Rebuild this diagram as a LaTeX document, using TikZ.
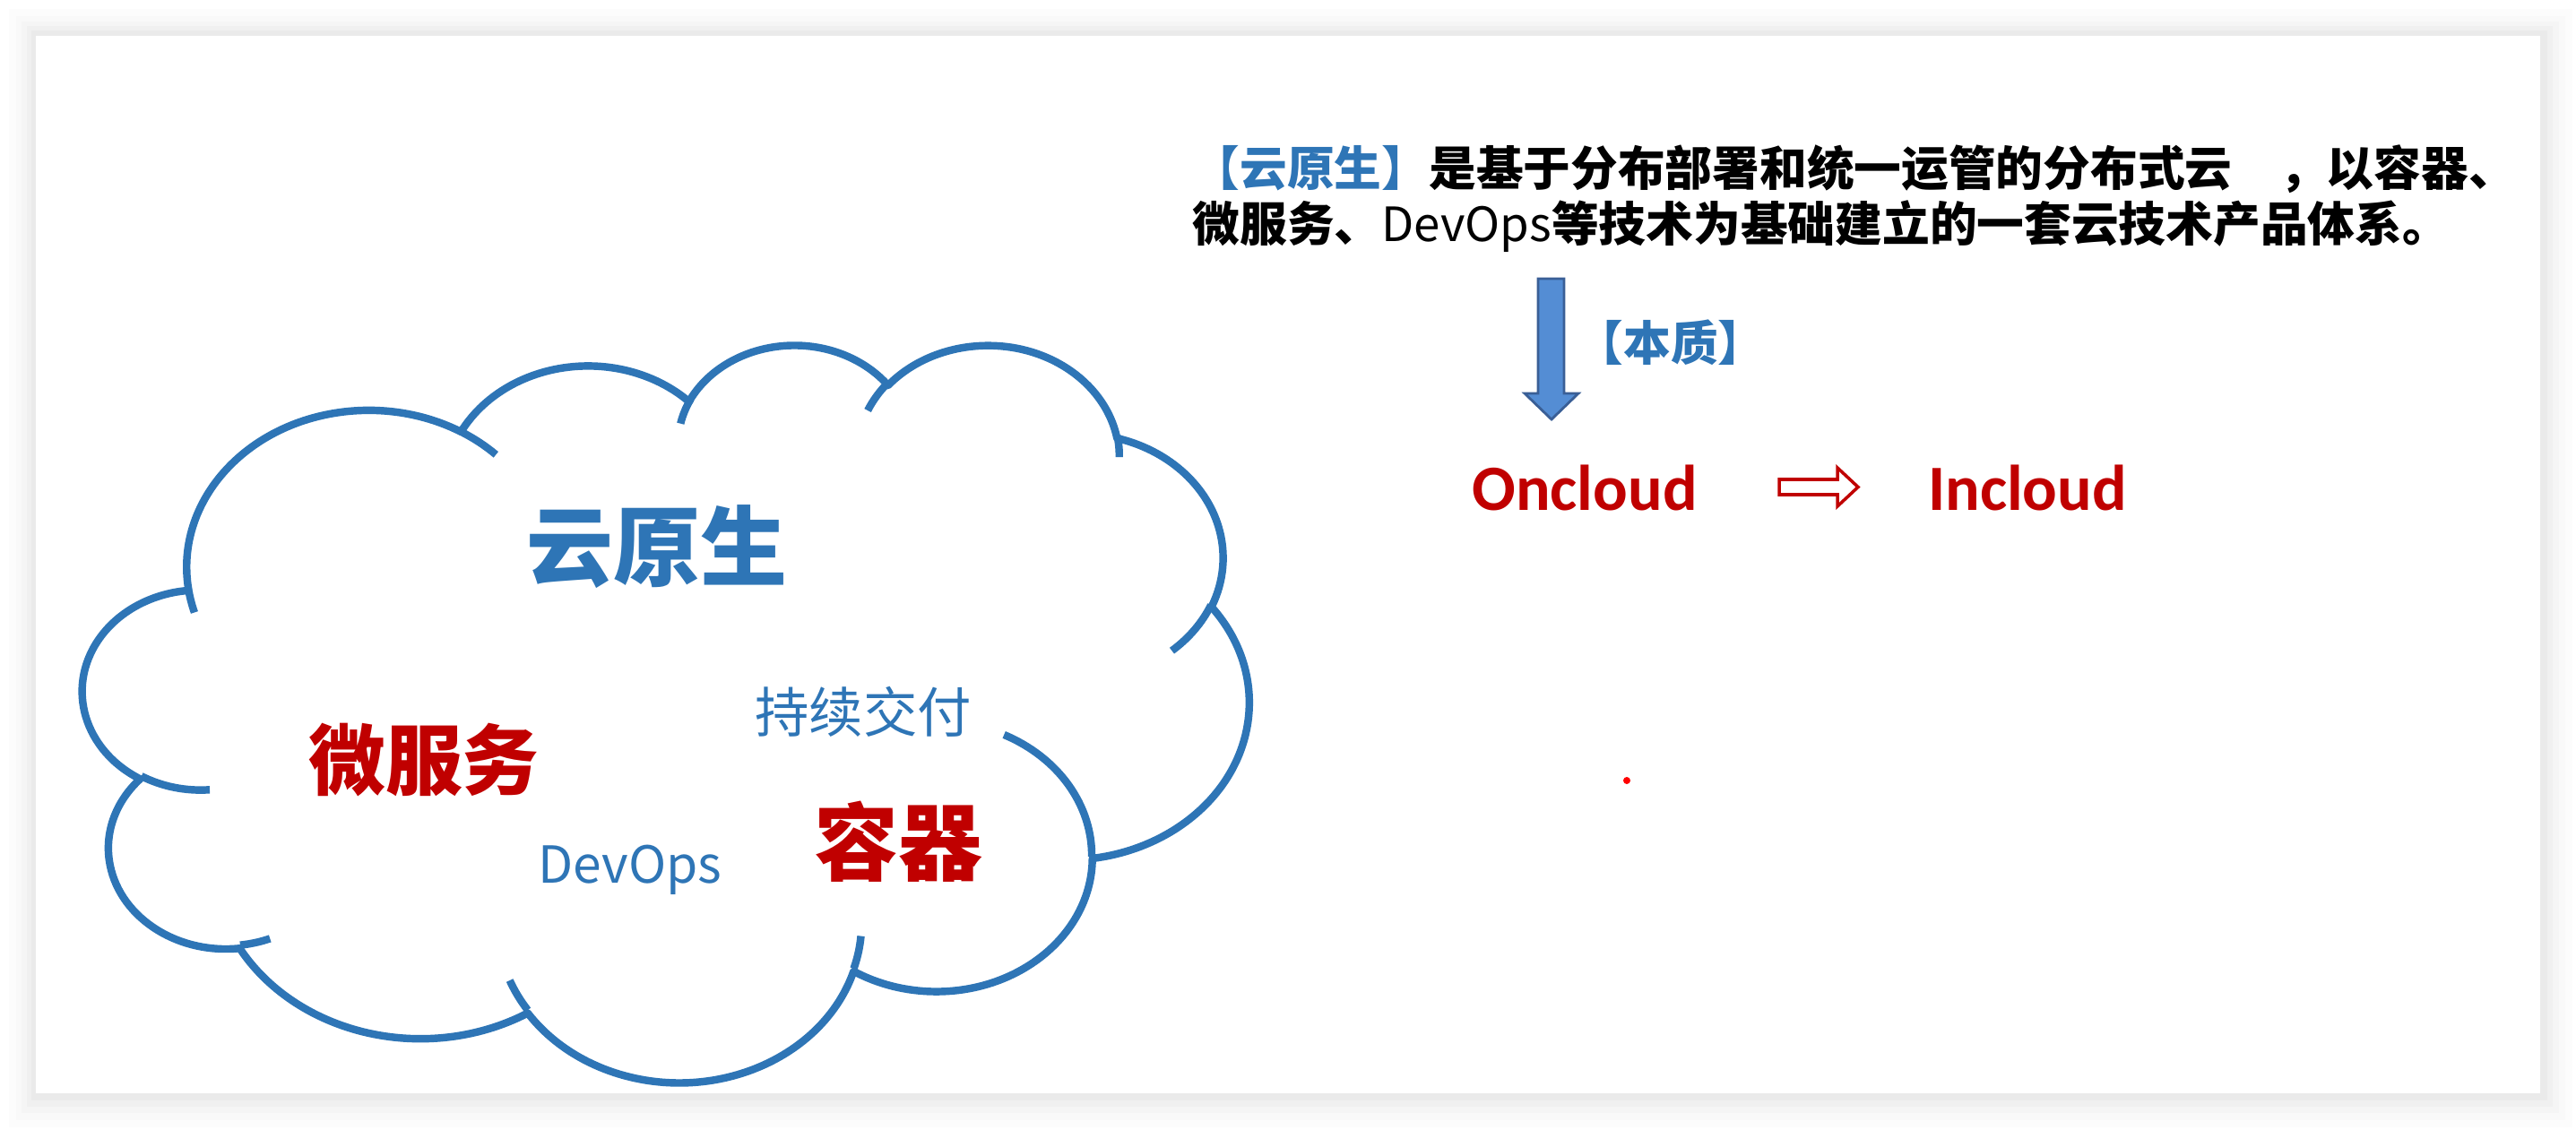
\documentclass[tikz,border=0pt]{standalone}
\usepackage{fontspec}
\newfontfamily\cjk{Noto Sans CJK SC}
\newfontfamily\calib{Carlito}
\definecolor{cloudblue}{RGB}{46,117,182}
\definecolor{deepred}{RGB}{192,0,0}
\definecolor{arrowblue}{RGB}{84,141,212}
\definecolor{arrowedge}{RGB}{58,95,150}
% one lobe of the cloud: x radius, y radius, start angle, sweep (angles seen on the page)
\newcommand{\cloudarc}[4]{arc[x radius=#1, y radius=#2,
  start angle={atan2(#1*sin(#3),#2*cos(#3))},
  delta angle={mod(atan2(#1*sin(#3+#4),#2*cos(#3+#4))-atan2(#1*sin(#3),#2*cos(#3))+720,360)}]}

\begin{document}
\begin{tikzpicture}[
    cloudline/.style={draw=cloudblue, line width=2.4pt, line join=round},
    cloudword/.style={inner sep=0, font=\cjk},
    introline/.style={anchor=west, inner sep=0, font={\cjk\bfseries\fontsize{15}{18}\selectfont}},
    bigword/.style={inner sep=0, anchor=base, text=deepred, font={\calib\bfseries\fontsize{20.5}{24}\selectfont}}
  ]
			%%%%% START %%%%%
			
			\useasboundingbox (0, 0) rectangle (28.74, 12.6);
			\fill[white] (0, 0) rectangle (28.74, 12.6);
			
			% page with its soft shadow
			\fill[black, opacity=0.01] (0.10, 0.02) rectangle (28.70, 12.50);
			\fill[black, opacity=0.012] (0.18, 0.10) rectangle (28.62, 12.42);
			\fill[black, opacity=0.015] (0.24, 0.18) rectangle (28.55, 12.36);
			\fill[black, opacity=0.02] (0.30, 0.25) rectangle (28.48, 12.31);
			\fill[black, opacity=0.025] (0.35, 0.32) rectangle (28.42, 12.26);
			\fill[white] (0.40, 0.40) rectangle (28.34, 12.20);
			
			% cloud
			\begin{scope}[shift={(0.927, 8.772)}, x=0.0301cm, y=-0.01904cm]
			\draw[cloudline, fill=white] (39.00, 143.70)
			  \cloudarc{67.53}{91.90}{-190.48748}{123.78053}
			  \cloudarc{53.33}{72.67}{-144.10238}{89.94523}
			  \cloudarc{43.65}{59.45}{-145.80792}{99.72302}
			  \cloudarc{48.57}{65.95}{-130.98607}{117.24173}
			  \cloudarc{53.33}{72.73}{-78.70888}{109.02692}
			  \cloudarc{67.75}{92.20}{-46.26725}{130.269}
			  \cloudarc{57.85}{78.67}{0.62502}{114.03333}
			  \cloudarc{67.52}{92.15}{22.4516}{115.17255}
			  \cloudarc{77.20}{105.43}{66.24263}{75.71102}
			  \cloudarc{43.60}{59.18}{-274.94208}{146.73557}
			  \cloudarc{43.45}{59.45}{-246.8285}{152.51885}
			  -- cycle;
			\draw[cloudline] (46.93, 261.77) \cloudarc{43.45}{59.45}{86.742}{26.4295};
			\draw[cloudline] (69.28, 348.99) \cloudarc{43.60}{59.18}{73.61047}{11.44747};
			\draw[cloudline] (164.78, 390.90) \cloudarc{67.52}{92.15}{137.62415}{14.0811};
			\draw[cloudline] (288.27, 347.51) \cloudarc{67.52}{92.15}{6.45327}{15.99835};
			\draw[cloudline] (341.29, 229.54) \cloudarc{57.85}{78.67}{-70.29235}{70.91737};
			\draw[cloudline] (417.98, 153.54) \cloudarc{53.33}{72.73}{30.31803}{27.7515};
			\draw[cloudline] (383.24, 54.26) \cloudarc{48.57}{65.95}{-13.74433}{14.8589};
			\draw[cloudline] (290.78, 39.52) \cloudarc{48.57}{65.95}{-149.18145}{18.19537};
			\draw[cloudline] (221.41, 47.20) \cloudarc{43.65}{59.45}{-163.49427}{18.19537};
			\draw[cloudline] (140.00, 51.92) \cloudarc{67.53}{91.90}{-66.70695}{12.31935};
			\draw[cloudline] (41.27, 157.89) \cloudarc{67.53}{91.90}{157.65435}{11.85817};
			\end{scope}
			
			\node[cloudword, text=cloudblue, font={\cjk\bfseries\fontsize{27.6}{30}\selectfont}] (title) at (7.33, 6.50) {云原生};
			\node[cloudword, text=deepred, font={\cjk\bfseries\fontsize{24.4}{28}\selectfont}] (micro) at (4.73, 4.12) {微服务};
			\node[cloudword, text=cloudblue, font={\cjk\fontsize{17.2}{20}\selectfont}] (delivery) at (9.63, 4.66) {持续交付};
			\node[cloudword, text=deepred, font={\cjk\bfseries\fontsize{26.7}{30}\selectfont}] (container) at (10.02, 3.21) {容器};
			\node[cloudword, anchor=base, text=cloudblue, font={\cjk\fontsize{16.2}{19}\selectfont}] (devops) at (7.03, 2.75) {DevOps};
			
			% definition
			\node[introline] (intro1) at (13.30, 10.71) {\textcolor{cloudblue}{【云原生】}是基于分布部署和统一运管的分布式云\hspace{1em}，以容器、};
			\node[introline] (intro2) at (13.30, 10.07) {微服务、{\mdseries DevOps}等技术为基础建立的一套云技术产品体系。};
			
			\draw[arrowedge, fill=arrowblue, line width=0.8pt] (17.16, 9.49) -- (17.45, 9.49) -- (17.45, 8.21) -- (17.61, 8.21)
			  -- (17.31, 7.92) -- (17.01, 8.21) -- (17.16, 8.21) -- cycle;
			\node[introline, anchor=center, text=cloudblue] (essence) at (18.64, 8.78) {【本质】};
			
			\node[bigword] (oncloud) at (17.68, 6.91) {Oncloud};
			\node[bigword] (incloud) at (22.62, 6.91) {Incloud};
			\draw[deepred, fill=white, line width=1pt] (19.85, 7.08) -- (20.50, 7.08) -- (20.50, 6.95) -- (20.73, 7.165)
			  -- (20.50, 7.38) -- (20.50, 7.25) -- (19.85, 7.25) -- cycle;
			
			\fill[red] (18.15, 3.89) circle (0.04);
			
			%%%%% END %%%%%
\end{tikzpicture}
\end{document}
